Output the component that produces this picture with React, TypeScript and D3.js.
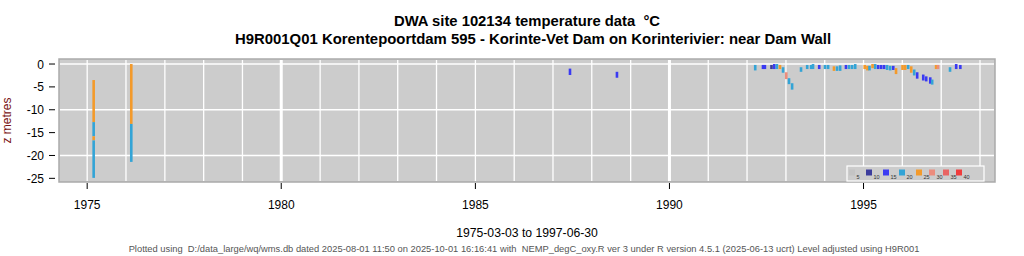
import React from "react";
import * as d3 from "d3";

// ---- data ----
const titleLine1 = "DWA site 102134 temperature data  °C";
const titleLine2 = "H9R001Q01 Korentepoortdam 595 - Korinte-Vet Dam on Korinterivier: near Dam Wall";
const xLabel = "1975-03-03 to 1997-06-30";
const yLabel = "z metres";
const footer =
  "Plotted using  D:/data_large/wq/wms.db dated 2025-08-01 11:50 on 2025-10-01 16:16:41 with  NEMP_degC_oxy.R ver 3 under R version 4.5.1 (2025-06-13 ucrt) Level adjusted using H9R001";

const firstDate = "1975-03-03";
const lastDate = "1997-06-30";

const xTickYears = [1975, 1980, 1985, 1990, 1995];
const yTicks = [0, -5, -10, -15, -20, -25];
const yGrid = [0, -10, -20];

// temperature class breaks and legend
const legendLabels = [5, 10, 15, 20, 25, 30, 35, 40];
const legendColors = ["#c4c4c4", "#3c3c9c", "#3a3af2", "#33a4d6", "#f39a2b", "#ec8c7c", "#e86464", "#f03c3c"];

// [date, top depth (m), bottom depth (m), temperature (°C)]
type Seg = [string, number, number, number];

const earlyProfiles: Seg[] = [
  ["1975-03-03", -3.5, -12.7, 22],
  ["1975-03-03", -12.7, -15.8, 17],
  ["1975-03-03", -15.8, -16.7, 21],
  ["1975-03-03", -16.7, -24.9, 17],
  ["1976-02-20", 0, -13.1, 22],
  ["1976-02-20", -13.1, -21.4, 17],
];

const midProfiles: Seg[] = [
  ["1987-06-10", -1.0, -2.4, 12],
  ["1988-08-25", -1.7, -3.0, 12],
];

const lateProfiles: Seg[] = [
  ["1992-03-18", -0.2, -1.4, 17],
  ["1992-05-30", -0.2, -1.1, 12],
  ["1992-06-17", -0.2, -1.1, 12],
  ["1992-08-18", -0.2, -1.1, 8],
  ["1992-09-13", 0, -1.1, 12],
  ["1992-10-08", 0, -1.1, 17],
  ["1992-11-06", -0.2, -1.1, 22],
  ["1992-12-05", -0.7, -1.9, 17],
  ["1993-01-04", -1.8, -3.3, 27],
  ["1993-01-30", -3.1, -4.4, 17],
  ["1993-02-28", -4.2, -5.6, 17],
  ["1993-05-23", -0.7, -1.7, 17],
  ["1993-07-20", -0.2, -1.1, 17],
  ["1993-08-26", -0.2, -1.1, 17],
  ["1993-09-13", 0, -1.1, 17],
  ["1993-11-10", -0.2, -1.1, 12],
  ["1994-01-04", -0.2, -1.1, 17],
  ["1994-02-02", -0.2, -1.1, 17],
  ["1994-03-29", -0.5, -1.5, 22],
  ["1994-04-27", -0.5, -1.5, 17],
  ["1994-05-26", -0.3, -1.5, 17],
  ["1994-07-20", -0.2, -1.1, 12],
  ["1994-08-18", -0.2, -1.1, 17],
  ["1994-09-16", -0.2, -1.1, 17],
  ["1994-10-15", 0, -1.1, 17],
  ["1995-01-12", -0.2, -1.1, 22],
  ["1995-02-07", -0.4, -1.4, 22],
  ["1995-02-26", -0.4, -1.4, 17],
  ["1995-03-27", 0, -0.9, 22],
  ["1995-04-21", 0, -1.1, 17],
  ["1995-05-19", -0.2, -1.1, 12],
  ["1995-06-16", -0.2, -1.1, 12],
  ["1995-07-14", -0.2, -1.1, 12],
  ["1995-08-11", -0.2, -1.3, 17],
  ["1995-09-09", -0.4, -1.4, 17],
  ["1995-10-08", -0.4, -1.3, 12],
  ["1995-11-03", -0.9, -2.2, 22],
  ["1996-01-03", -0.2, -1.3, 22],
  ["1996-01-28", -0.2, -1.3, 22],
  ["1996-02-25", -0.2, -1.1, 17],
  ["1996-03-25", -0.5, -1.9, 22],
  ["1996-04-22", -1.2, -2.5, 17],
  ["1996-05-20", -1.8, -3.2, 12],
  ["1996-07-16", -2.3, -3.6, 12],
  ["1996-08-13", -2.7, -3.8, 12],
  ["1996-09-20", -2.9, -4.3, 12],
  ["1996-10-08", -3.4, -4.5, 17],
  ["1996-11-14", -0.2, -1.1, 22],
  ["1996-12-02", -0.2, -1.1, 28],
  ["1997-03-25", -0.7, -1.7, 17],
  ["1997-05-22", 0, -1.1, 12],
  ["1997-06-30", -0.2, -1.1, 12],
];

// ---- layout ----
const W = 1024;
const H = 256;
const panel = { left: 59, right: 995, top: 59, bottom: 182 };
const FONT = "'Liberation Sans', Arial, Helvetica, sans-serif";
const pre = { whiteSpace: "pre" as const };

export default function App() {
  const parse = d3.timeParse("%Y-%m-%d");
  const d0 = parse(firstDate)!;
  const d1 = parse(lastDate)!;
  const ext = (d1.getTime() - d0.getTime()) * 0.04;
  const x = d3
    .scaleTime()
    .domain([new Date(d0.getTime() - ext), new Date(d1.getTime() + ext)])
    .range([panel.left, panel.right]);
  const y = d3.scaleLinear().domain([-25.8, 1.1]).range([panel.bottom, panel.top]);
  const color = d3
    .scaleThreshold<number, string>()
    .domain(legendLabels.slice(0, -1))
    .range(legendColors);

  const allSegs = [...earlyProfiles, ...midProfiles, ...lateProfiles];
  const yearLines = d3.range(1974, 1999).map((yr) => new Date(yr, 0, 1)).filter((d) => {
    const px = x(d);
    return px > panel.left && px < panel.right;
  });

  const legendX = [849, 866, 883, 899, 916, 929, 943, 956];

  return (
    <svg
      width={W}
      height={H}
      style={{ position: "absolute", left: 0, top: 0, fontFamily: FONT }}
    >
      <rect width={W} height={H} fill="#ffffff" />
      {/* titles */}
      <text x={527} y={25.5} textAnchor="middle" fontSize={14.8} fontWeight="bold" fill="#000" xmlSpace="preserve" style={pre}>
        {titleLine1}
      </text>
      <text x={533} y={43.5} textAnchor="middle" fontSize={14.9} fontWeight="bold" fill="#000">
        {titleLine2}
      </text>

      {/* panel */}
      <rect
        x={panel.left}
        y={panel.top}
        width={panel.right - panel.left}
        height={panel.bottom - panel.top}
        fill="#cccccc"
        stroke="#aaaaaa"
        strokeWidth={1.5}
      />
      {yearLines.map((d, i) => (
        <line
          key={"v" + i}
          x1={x(d)}
          x2={x(d)}
          y1={panel.top + 1}
          y2={panel.bottom - 1}
          stroke="#ffffff"
          strokeWidth={d.getFullYear() % 10 === 0 ? 3 : 1.3}
        />
      ))}
      {yGrid.map((v) => (
        <line
          key={"h" + v}
          x1={panel.left + 1}
          x2={panel.right - 1}
          y1={y(v)}
          y2={y(v)}
          stroke="#ffffff"
          strokeWidth={1.5}
        />
      ))}

      {/* data */}
      {allSegs.map(([ds, top, bot, t], i) => {
        const cx = x(parse(ds)!);
        return (
          <rect
            key={"s" + i}
            x={cx - 1.3}
            width={2.6}
            y={y(top)}
            height={y(bot) - y(top)}
            fill={color(t)}
          />
        );
      })}

      {/* legend */}
      <rect x={847} y={166} width={137} height={15} fill="#cccccc" stroke="#ffffff" strokeWidth={1.2} />
      {legendLabels.map((lab, i) => (
        <g key={"lg" + i}>
          <rect x={legendX[i]} y={169.5} width={6} height={6} fill={legendColors[i]} />
          <text x={legendX[i] + 7.5} y={178.5} fontSize={5.5} fill="#333">
            {lab}
          </text>
        </g>
      ))}

      {/* x axis */}
      {xTickYears.map((yr) => {
        const px = x(new Date(yr, 0, 1));
        return (
          <g key={"xt" + yr}>
            <line x1={px} x2={px} y1={panel.bottom + 1} y2={panel.bottom + 7} stroke="#000" strokeWidth={1} />
            <text x={px} y={209} textAnchor="middle" fontSize={12} fill="#000">
              {yr}
            </text>
          </g>
        );
      })}

      {/* y axis */}
      {yTicks.map((v) => (
        <g key={"yt" + v}>
          <line x1={49} x2={55} y1={y(v)} y2={y(v)} stroke="#000" strokeWidth={1} />
          <text x={44} y={y(v) + 4.5} textAnchor="end" fontSize={12} fill="#000">
            {v}
          </text>
        </g>
      ))}
      <text
        transform={`translate(11,${(panel.top + panel.bottom) / 2}) rotate(-90)`}
        textAnchor="middle"
        fontSize={12}
        fill="#7a1414"
      >
        {yLabel}
      </text>

      <text x={527} y={237} textAnchor="middle" fontSize={12.2} fill="#000">
        {xLabel}
      </text>
      <text x={524} y={252} textAnchor="middle" fontSize={9.35} fill="#555" xmlSpace="preserve" style={pre}>
        {footer}
      </text>
    </svg>
  );
}
